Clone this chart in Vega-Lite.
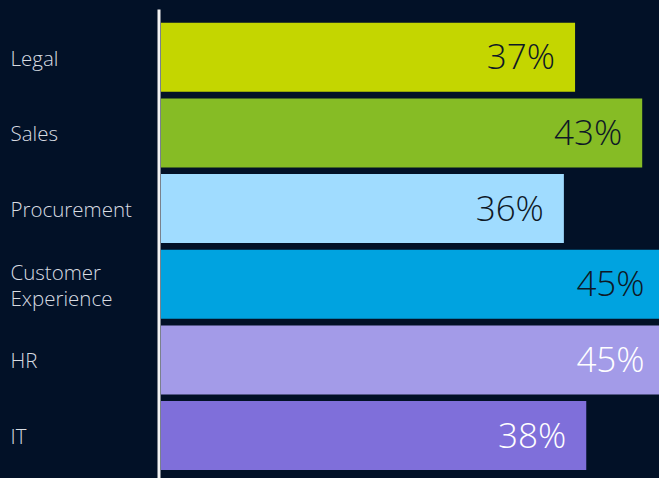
{
  "$schema": "https://vega.github.io/schema/vega-lite/v6.json",
  "width": 498,
  "height": 469,
  "padding": {"left": 10, "top": 9, "right": 0, "bottom": 0},
  "background": "#021127",
  "config": {"view": {"stroke": null}},
  "data": {
    "values": [
      {"dept": "Legal", "pct": 0.37},
      {"dept": "Sales", "pct": 0.43},
      {"dept": "Procurement", "pct": 0.36},
      {"dept": "Customer Experience", "pct": 0.45},
      {"dept": "HR", "pct": 0.45},
      {"dept": "IT", "pct": 0.38}
    ]
  },
  "encoding": {
    "y": {
      "field": "dept",
      "type": "nominal",
      "sort": null,
      "title": null,
      "scale": {"paddingInner": 0.088, "paddingOuter": 0.1435, "align": 0.636},
      "axis": {
        "ticks": false,
        "tickSize": 0,
        "offset": 2.5,
        "domainColor": "#f2f2f2",
        "domainWidth": 3,
        "labelAlign": "left",
        "labelPadding": 148.5,
        "labelFont": "Open Sans",
        "labelFontWeight": 300,
        "labelFontSize": 20.5,
        "labelLineHeight": 26,
        "labelColor": "#d8dce2",
        "labelOffset": {"condition": {"test": "datum.label == 'Customer Experience'", "value": -10}, "value": 2.5},
        "labelExpr": "split(datum.label, ' ')"
      }
    },
    "x": {
      "field": "pct",
      "type": "quantitative",
      "scale": {"domain": [0, 0.445], "nice": false, "zero": true},
      "axis": null
    }
  },
  "layer": [
    {
      "mark": {"type": "bar", "clip": true},
      "encoding": {
        "color": {
          "field": "dept",
          "type": "nominal",
          "legend": null,
          "scale": {
            "domain": ["Legal", "Sales", "Procurement", "Customer Experience", "HR", "IT"],
            "range": ["#c4d600", "#86bc25", "#a0dcff", "#00a3e0", "#a39be8", "#7f6fda"]
          }
        }
      }
    },
    {
      "mark": {"type": "text", "align": "right", "baseline": "middle", "dx": -20, "dy": 1, "font": "Open Sans", "fontWeight": 300, "fontSize": 35},
      "encoding": {
        "text": {"field": "pct", "type": "quantitative", "format": ".0%"},
        "color": {
          "field": "dept",
          "type": "nominal",
          "legend": null,
          "scale": {
            "domain": ["Legal", "Sales", "Procurement", "Customer Experience", "HR", "IT"],
            "range": ["#0e1826", "#0e1826", "#0e1826", "#0e1826", "#ffffff", "#ffffff"]
          }
        }
      }
    }
  ],
  "resolve": {"scale": {"color": "independent"}}
}
